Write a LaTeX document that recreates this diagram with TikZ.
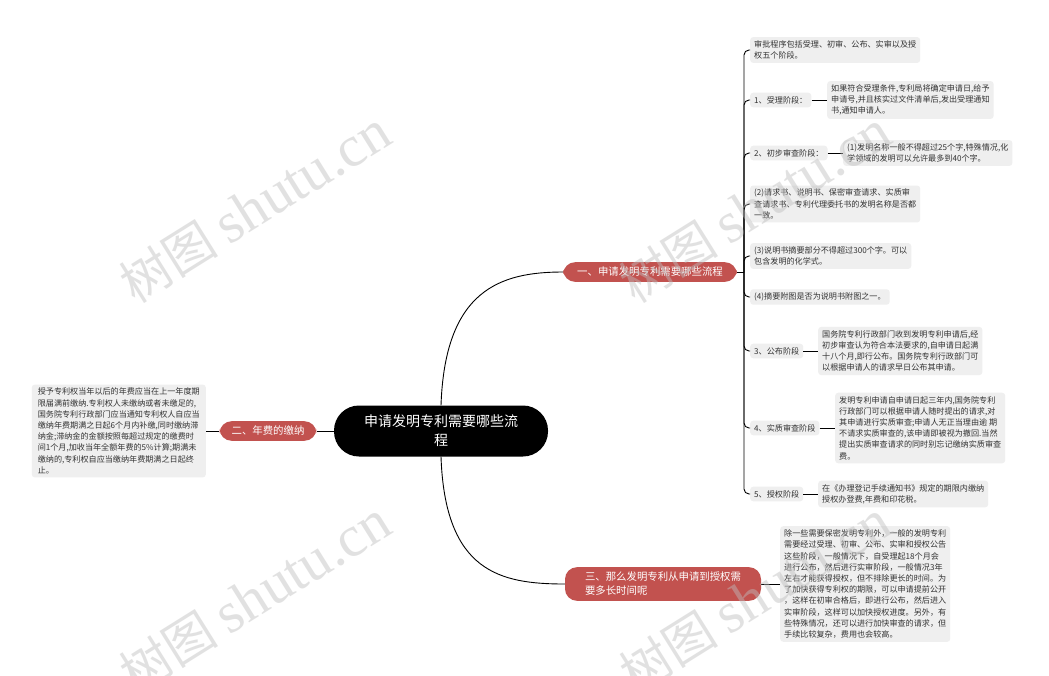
\documentclass[tikz,border=0pt]{standalone}
\usepackage{fontspec}
\setmainfont{Noto Sans CJK SC}
\newfontfamily\wmserif{Liberation Serif}
\definecolor{brred}{RGB}{194,82,79}
\definecolor{boxgray}{RGB}{239,239,239}
\definecolor{txtgray}{RGB}{51,51,51}
\definecolor{wmgray}{RGB}{190,190,190}
\begin{document}
\begin{tikzpicture}[x=1pt,y=-1pt,
  leaf/.style={fill=boxgray, rounded corners=3pt, inner xsep=4pt, inner ysep=3.5pt,
    align=left, text=txtgray, anchor=west, font=\fontsize{8.1}{11.2}\selectfont},
  branch/.style={fill=brred, text=white, rounded corners=12pt, inner ysep=5pt,
    align=left, font=\fontsize{10.4}{14}\selectfont},
  rootnode/.style={fill=black, text=white, rounded corners=25pt, align=center,
    minimum width=214pt, minimum height=51pt, font=\fontsize{14}{19}\selectfont},
  link/.style={draw=black, line width=0.9pt},
  wm/.style={text=wmgray, opacity=0.45, rotate=32, inner sep=0pt}
]
\useasboundingbox (0,0) rectangle (1049,675);
\fill[white] (0,0) rectangle (1049,675);

% central and main branches
\node[rootnode] (root) at (441,431) {申请发明专利需要哪些流\\程};
\node[branch, inner xsep=14pt] (b1) at (650,272) {一、申请发明专利需要哪些流程};
\node[branch, inner xsep=12pt] (b2) at (268,431) {二、年费的缴纳};
\node[branch, inner xsep=20pt] (b3) at (663,584) {三、那么发明专利从申请到授权需\\要多长时间呢};

% left leaf
\node[leaf, anchor=east, inner xsep=6pt] (fee) at (206,431) {授予专利权当年以后的年费应当在上一年度期\\限届满前缴纳.专利权人未缴纳或者未缴足的,\\国务院专利行政部门应当通知专利权人自应当\\缴纳年费期满之日起6个月内补缴,同时缴纳滞\\纳金;滞纳金的金额按照每超过规定的缴费时\\间1个月,加收当年全额年费的5\%计算;期满未\\缴纳的,专利权自应当缴纳年费期满之日起终\\止。};

% branch 1 children
\node[leaf] (c1) at (750,50) {审批程序包括受理、初审、公布、实审以及授\\权五个阶段。};
\node[leaf] (k1) at (750,100) {1、受理阶段：};
\node[leaf] (k1d) at (827,100) {如果符合受理条件,专利局将确定申请日,给予\\申请号,并且核实过文件清单后,发出受理通知\\书,通知申请人。};
\node[leaf] (k2) at (750,153) {2、初步审查阶段：};
\node[leaf] (k2d) at (843,153) {(1)发明名称一般不得超过25个字,特殊情况,化\\学领域的发明可以允许最多到40个字。};
\node[leaf] (c4) at (750,204) {(2)请求书、说明书、保密审查请求、实质审\\查请求书、专利代理委托书的发明名称是否都\\一致。};
\node[leaf] (c5) at (750,256) {(3)说明书摘要部分不得超过300个字。可以\\包含发明的化学式。};
\node[leaf] (c6) at (750,297) {(4)摘要附图是否为说明书附图之一。};
\node[leaf] (k3) at (750,351) {3、公布阶段};
\node[leaf] (k3d) at (818,351) {国务院专利行政部门收到发明专利申请后,经\\初步审查认为符合本法要求的,自申请日起满\\十八个月,即行公布。国务院专利行政部门可\\以根据申请人的请求早日公布其申请。};
\node[leaf] (k4) at (750,428) {4、实质审查阶段};
\node[leaf] (k4d) at (835,428) {发明专利申请自申请日起三年内,国务院专利\\行政部门可以根据申请人随时提出的请求,对\\其申请进行实质审查;申请人无正当理由逾 期\\不请求实质审查的,该申请即被视为撤回.当然\\提出实质审查请求的同时别忘记缴纳实质审查\\费。};
\node[leaf] (k5) at (750,494) {5、授权阶段};
\node[leaf] (k5d) at (818,494) {在《办理登记手续通知书》规定的期限内缴纳\\授权办登费,年费和印花税。};

% branch 3 child
\node[leaf] (b3d) at (780,584) {除一些需要保密发明专利外，一般的发明专利\\需要经过受理、初审、公布、实审和授权公告\\这些阶段，一般情况下，自受理起18个月会\\进行公布，然后进行实审阶段，一般情况3年\\左右才能获得授权，但不排除更长的时间。为\\了加快获得专利权的期限，可以申请提前公开\\，这样在初审合格后，即进行公布，然后进入\\实审阶段，这样可以加快授权进度。另外，有\\些特殊情况，还可以进行加快审查的请求，但\\手续比较复杂，费用也会较高。};

% connectors from root
\draw[link] (root.north) .. controls (445,290) and (500,272) .. (b1.west);
\draw[link] (root.south) .. controls (445,572) and (500,584) .. (b3.west);
\draw[link] (root.west) -- (b2.east);
\draw[link] (b2.west) -- (fee.east);
\draw[link] (b3.east) -- (b3d.west);

% bracket of branch 1
\coordinate (hub) at (744,272);
\draw[link] (b1.east) -- (hub);
\foreach \c in {c1,k1,k2,c4,c5,c6,k3,k4,k5}{
  \draw[link, rounded corners=5pt] (hub) |- (\c.west);
}
\draw[link] (k1.east) -- (k1d.west);
\draw[link] (k2.east) -- (k2d.west);
\draw[link] (k3.east) -- (k3d.west);
\draw[link] (k4.east) -- (k4d.west);
\draw[link] (k5.east) -- (k5d.west);

% watermarks
\node[wm] (wm1) at (255,207) {\fontsize{50}{50}\selectfont 树图 {\wmserif\fontsize{58}{58}\selectfont shutu.cn}};
\node[wm] (wm2) at (755,207) {\fontsize{50}{50}\selectfont 树图 {\wmserif\fontsize{58}{58}\selectfont shutu.cn}};
\node[wm] (wm3) at (255,597) {\fontsize{50}{50}\selectfont 树图 {\wmserif\fontsize{58}{58}\selectfont shutu.cn}};
\node[wm] (wm4) at (755,597) {\fontsize{50}{50}\selectfont 树图 {\wmserif\fontsize{58}{58}\selectfont shutu.cn}};
\end{tikzpicture}
\end{document}
